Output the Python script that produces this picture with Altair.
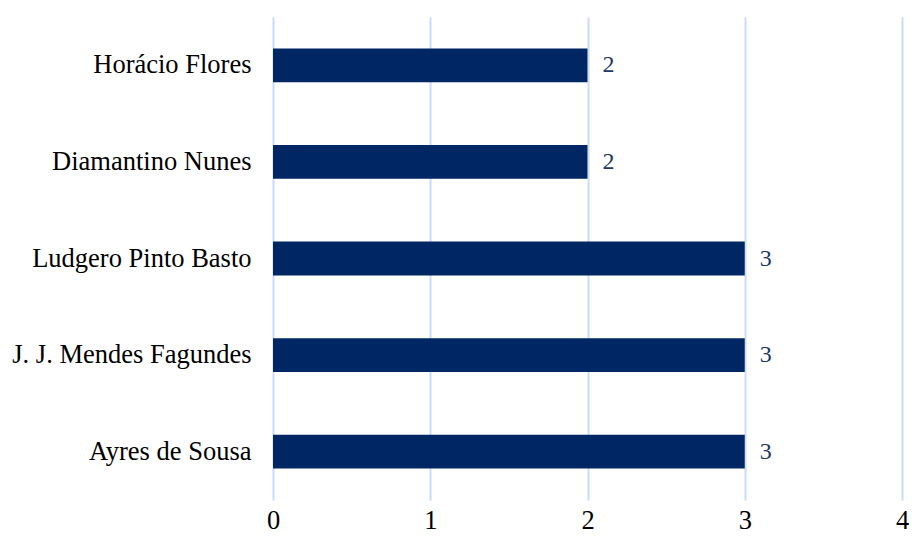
import altair as alt
import pandas as pd

names = ["Horácio Flores", "Diamantino Nunes", "Ludgero Pinto Basto", "J. J. Mendes Fagundes", "Ayres de Sousa"]
values = [2, 2, 3, 3, 3]

df = pd.DataFrame({"name": names, "value": values})

FONT = "Liberation Serif"

y = alt.Y("name:N", sort=names, title=None,
          scale=alt.Scale(paddingInner=0.65, paddingOuter=0.325),
          axis=alt.Axis(labelFont=FONT, labelFontSize=26.5, labelColor="#000000",
                        labelPadding=22, ticks=False, domain=False, grid=False, labelLimit=400))
x = alt.X("value:Q", title=None, scale=alt.Scale(domain=[0, 4], nice=False),
          axis=alt.Axis(values=[0, 1, 2, 3, 4], format="d", labelFont=FONT, labelFontSize=26.5,
                        labelColor="#000000", labelPadding=28, labelBaseline="alphabetic",
                        labelFlush=False, labelOverlap=False,
                        ticks=False, domain=False,
                        grid=True, gridColor="#c9dcff", gridWidth=2))

bars = alt.Chart(df).mark_bar(color="#002663").encode(x=x, y=y)
text = alt.Chart(df).mark_text(align="left", dx=15, font=FONT, fontSize=24, color="#1f3864").encode(
    x=alt.X("value:Q"), y=alt.Y("name:N", sort=names), text="value:Q")

chart = (bars + text).properties(
    width=629, height=483,
    autosize=alt.AutoSizeParams(type="none"),
    padding={"left": 265, "top": 9, "right": 7, "bottom": 35},
).configure_view(stroke=None)

chart.save("out.html", embed_options={"renderer": "svg", "actions": False})
